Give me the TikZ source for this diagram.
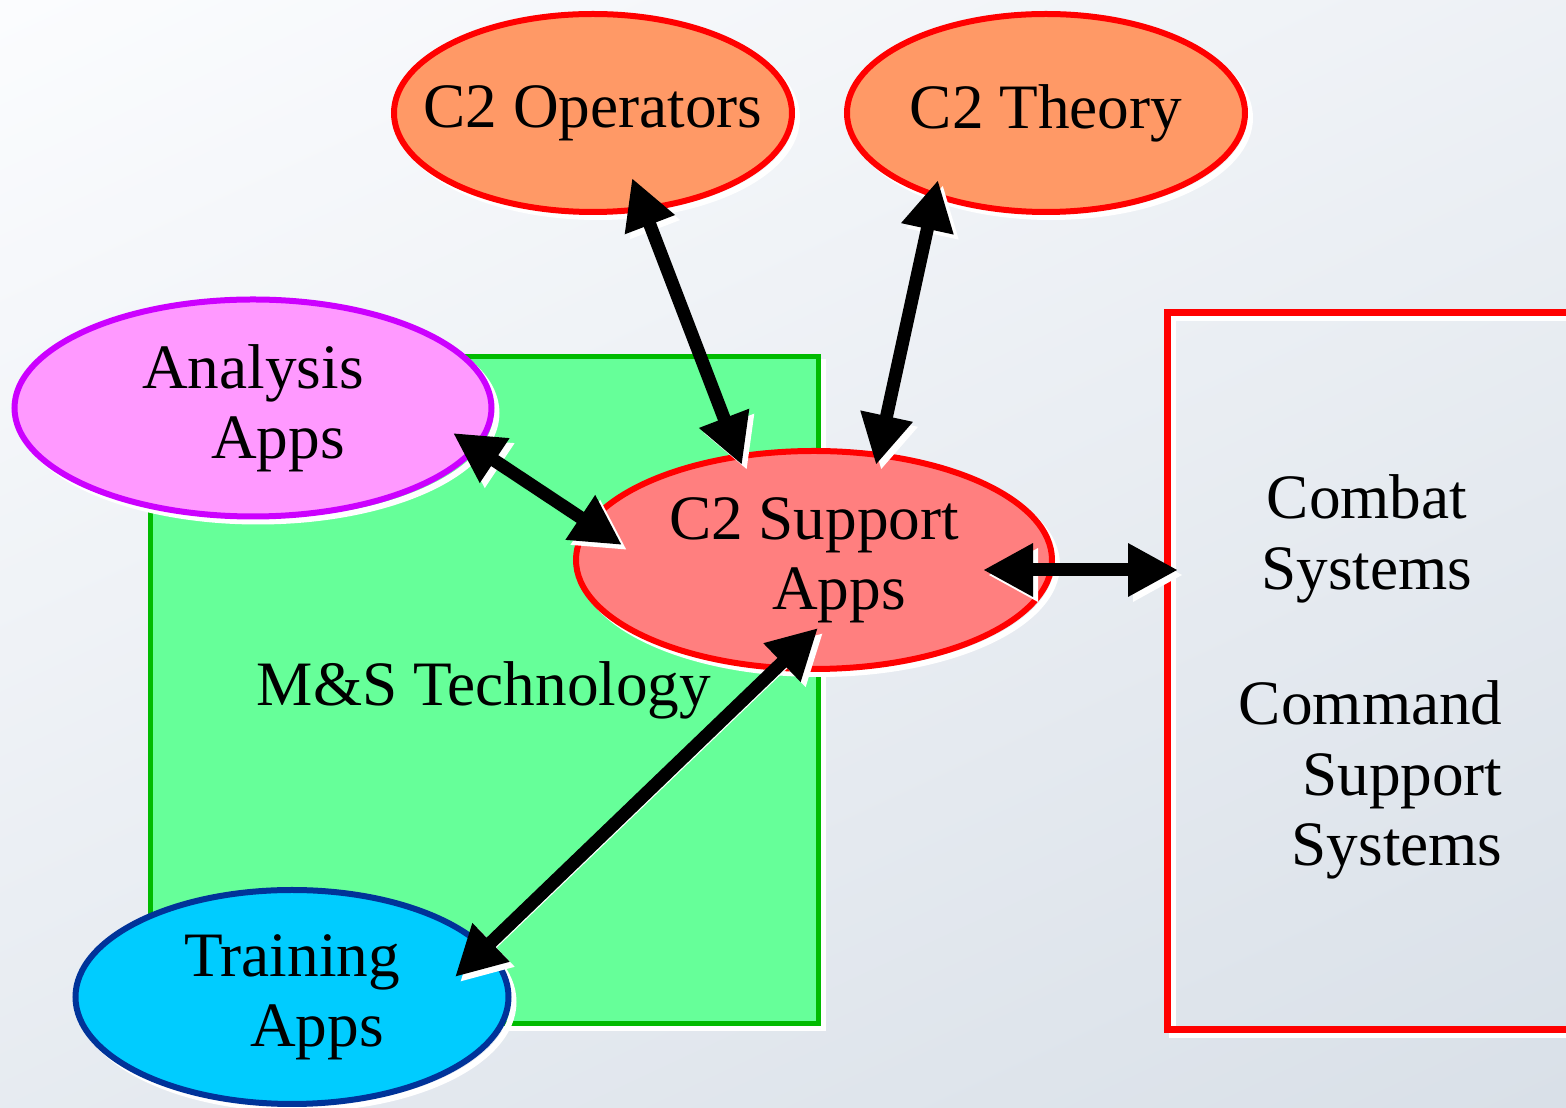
\documentclass[tikz,border=0pt]{standalone}
\usepackage{fontspec}
\setmainfont{Liberation Serif}
\usetikzlibrary{shapes.geometric,arrows.meta}

\definecolor{bgtop}{HTML}{FBFCFE}
\definecolor{bgbot}{HTML}{D9E0E8}
\definecolor{opsfill}{HTML}{FF9966}
\definecolor{anafill}{HTML}{FF99FF}
\definecolor{analine}{HTML}{CC00FF}
\definecolor{supfill}{HTML}{FF7F7F}
\definecolor{trainfill}{HTML}{00CCFF}
\definecolor{trainline}{HTML}{003399}
\definecolor{msfill}{HTML}{66FF99}
\definecolor{msline}{HTML}{00BB00}

\begin{document}
\begin{tikzpicture}[
  font=\fontsize{18}{20}\selectfont,
  wshadow/.style={preaction={draw=white,transform canvas={shift={(0.05cm,-0.05cm)}}}},
  app/.style={ellipse,draw=red,line width=0.06cm,inner sep=0pt,align=center,wshadow},
  link/.style={line width=0.13cm,wshadow,
    {Triangle[length=0.5cm,width=0.5cm]}-{Triangle[length=0.5cm,width=0.5cm]}}
]
  \clip (0,0) rectangle (15.66,11.08);
  \shade[top color=bgtop, bottom color=bgbot, shading angle=25] (-2,-2) rectangle (17.66,13.08);

  % boxes
  \node[draw=msline, fill=msfill, line width=0.05cm, minimum width=6.68cm, minimum height=6.67cm, inner sep=0pt, wshadow] (ms) at (4.84,4.175) {M\&S Technology};
  \node[draw=red, line width=0.07cm, minimum width=4.1cm, minimum height=7.17cm, inner sep=0pt, anchor=west, wshadow] (sys) at (11.635,4.37) {};
  \node[align=center] (combat) at (13.67,5.69) {Combat\\Systems};
  \node[align=right, anchor=east] (cmd) at (15.15,3.28) {Command\\Support\\Systems};

  % ellipses
  \node[app, fill=opsfill, inner xsep=-0.3cm, minimum width=3.98cm, minimum height=1.98cm] (ops) at (5.93,9.95) {C2 Operators};
  \node[app, fill=opsfill, minimum width=3.98cm, minimum height=1.98cm] (theory) at (10.46,9.95) {C2 Theory};
  \node[app, draw=analine, fill=anafill, minimum width=4.77cm, minimum height=2.17cm] (ana) at (2.53,7.00) {Analysis\\\hspace*{5mm}Apps};
  \node[app, fill=supfill, minimum width=4.76cm, minimum height=2.18cm] (sup) at (8.14,5.48) {C2 Support\\\hspace*{5mm}Apps};
  \node[app, draw=trainline, fill=trainfill, minimum width=4.33cm, minimum height=2.14cm] (train) at (2.92,1.11) {Training\\\hspace*{5mm}Apps};

  % arrows
  \draw[link] ([shift={(0.39,-0.65)}]ops.center) -- ([shift={(-0.72,0.95)}]sup.center);
  \draw[link] ([shift={(-1.08,-0.67)}]theory.center) -- ([shift={(0.62,0.95)}]sup.center);
  \draw[link] ([shift={(2.00,-0.25)}]ana.center) -- ([shift={(-1.92,0.15)}]sup.center);
  \draw[link] ([shift={(1.69,-0.10)}]sup.center) -- ([shift={(0.145,1.01)}]sys.west);
  \draw[link] ([shift={(0.04,-0.68)}]sup.center) -- ([shift={(1.63,0.20)}]train.center);
\end{tikzpicture}
\end{document}
